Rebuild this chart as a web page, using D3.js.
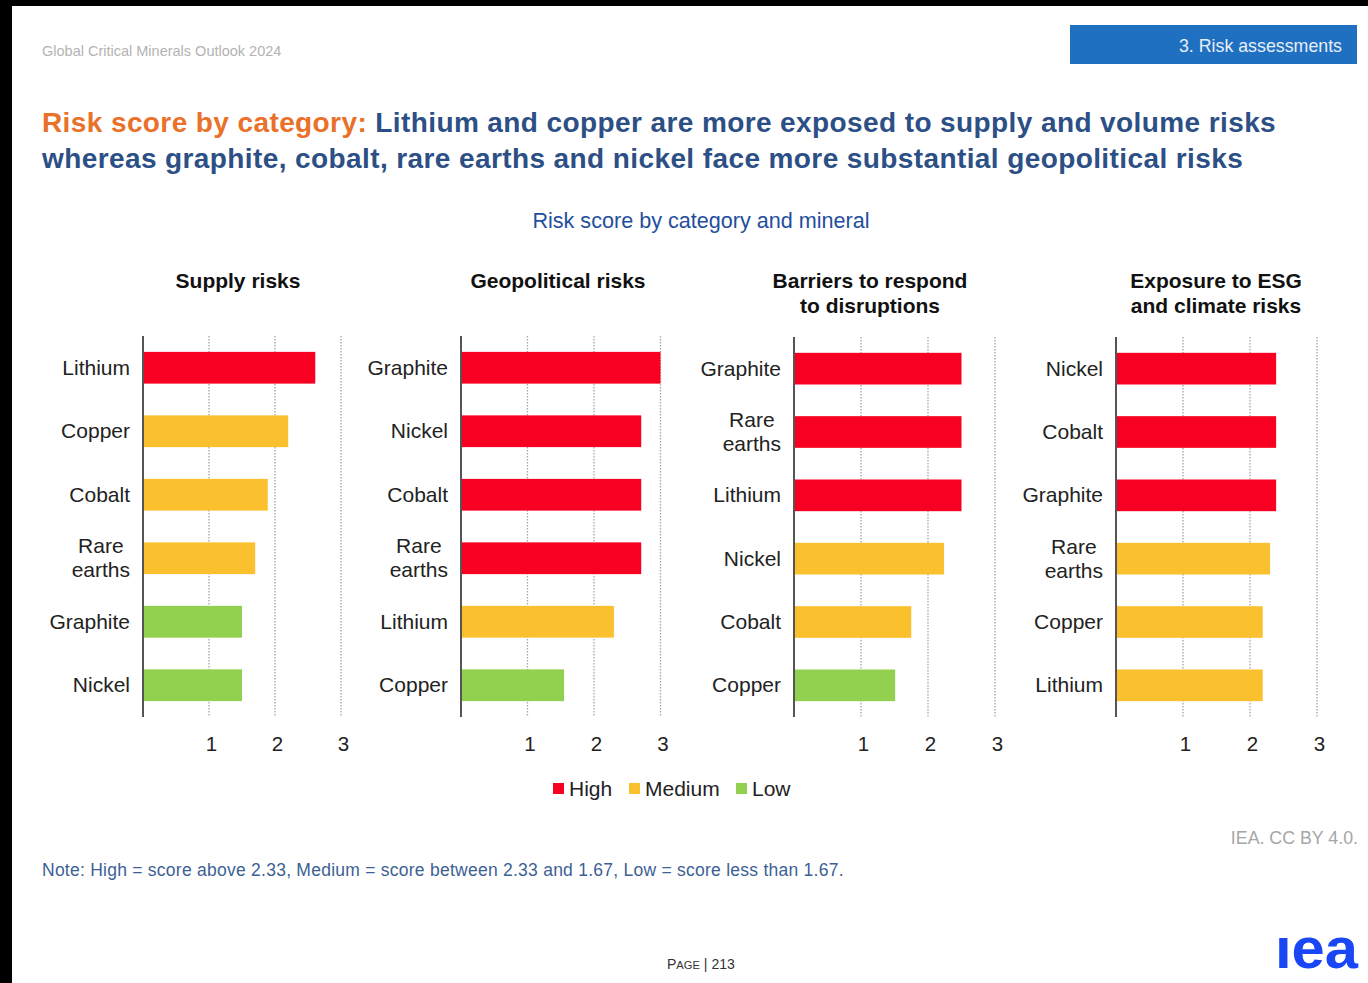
<!DOCTYPE html>
<html>
<head>
<meta charset="utf-8">
<script src="https://cdn.jsdelivr.net/npm/d3@7"></script>
<style>
  html, body { margin: 0; padding: 0; background: #000; }
  svg { display: block; }
  text { font-family: "Liberation Sans", Arial, sans-serif; }
</style>
</head>
<body>
<script>
// Risk scores (0–3) by category and mineral
const panelTitles = [
  ["Supply risks"],
  ["Geopolitical risks"],
  ["Barriers to respond", "to disruptions"],
  ["Exposure to ESG", "and climate risks"]
];
const supplyMinerals = ["Lithium", "Copper", "Cobalt", "Rare earths", "Graphite", "Nickel"];
const supplyScores   = [2.61, 2.2, 1.89, 1.7, 1.5, 1.5];
const supplyLevels   = ["High", "Medium", "Medium", "Medium", "Low", "Low"];

const geoMinerals = ["Graphite", "Nickel", "Cobalt", "Rare earths", "Lithium", "Copper"];
const geoScores   = [3.0, 2.71, 2.71, 2.71, 2.3, 1.55];
const geoLevels   = ["High", "High", "High", "High", "Medium", "Low"];

const barrierMinerals = ["Graphite", "Rare earths", "Lithium", "Nickel", "Cobalt", "Copper"];
const barrierScores   = [2.5, 2.5, 2.5, 2.24, 1.75, 1.51];
const barrierLevels   = ["High", "High", "High", "Medium", "Medium", "Low"];

const esgMinerals = ["Nickel", "Cobalt", "Graphite", "Rare earths", "Copper", "Lithium"];
const esgScores   = [2.39, 2.39, 2.39, 2.3, 2.19, 2.19];
const esgLevels   = ["High", "High", "High", "Medium", "Medium", "Medium"];

const tickValues = [1, 2, 3];
const levelNames = ["High", "Medium", "Low"];
const levelColors = ["#f70021", "#fbc02e", "#92d050"];

const panels = [
  { minerals: supplyMinerals, scores: supplyScores, levels: supplyLevels, x0: 143, unit: 66, top: 336 },
  { minerals: geoMinerals, scores: geoScores, levels: geoLevels, x0: 461, unit: 66.5, top: 336 },
  { minerals: barrierMinerals, scores: barrierScores, levels: barrierLevels, x0: 794, unit: 67, top: 337 },
  { minerals: esgMinerals, scores: esgScores, levels: esgLevels, x0: 1116, unit: 67, top: 337 }
];
const titleCenters = [238, 558, 870, 1216];

const W = 1368, H = 983;
const svg = d3.select("body").append("svg").attr("width", W).attr("height", H);

// page area (dark frame on left and top)
svg.append("rect").attr("x", 0).attr("y", 0).attr("width", W).attr("height", H).attr("fill", "#000");
svg.append("rect").attr("x", 12).attr("y", 6).attr("width", W - 12).attr("height", H - 6).attr("fill", "#fff");

// page header
svg.append("text").attr("x", 42).attr("y", 56).attr("font-size", 14.5).attr("fill", "#b3b3b3")
  .text("Global Critical Minerals Outlook 2024");
svg.append("rect").attr("x", 1070).attr("y", 25).attr("width", 287).attr("height", 39).attr("fill", "#1f70c1");
svg.append("text").attr("x", 1342).attr("y", 52).attr("text-anchor", "end").attr("font-size", 17.8)
  .attr("fill", "#e8eef8").text("3. Risk assessments");

// headline
const head = svg.append("g").attr("font-weight", "bold").attr("font-size", 28).attr("letter-spacing", 0.4);
const l1 = head.append("text").attr("x", 42).attr("y", 132);
l1.append("tspan").attr("fill", "#e9712a").text("Risk score by category: ");
l1.append("tspan").attr("fill", "#2c4f85").text("Lithium and copper are more exposed to supply and volume risks");
head.append("text").attr("x", 42).attr("y", 168).attr("fill", "#2c4f85")
  .text("whereas graphite, cobalt, rare earths and nickel face more substantial geopolitical risks");

// chart title
svg.append("text").attr("x", 701).attr("y", 228).attr("text-anchor", "middle").attr("font-size", 21.6)
  .attr("fill", "#1f4f9c").text("Risk score by category and mineral");

const colorOf = d3.scaleOrdinal().domain(levelNames).range(levelColors);
const bottom = 717;

panels.forEach((p, i) => {
  const g = svg.append("g");
  const x = d3.scaleLinear().domain([0, 3]).range([p.x0, p.x0 + 3 * p.unit]);
  const y = d3.scaleBand().domain(p.minerals).range([p.top, bottom]).paddingInner(0.5).paddingOuter(0.25);

  // panel title
  const t = g.append("text").attr("text-anchor", "middle").attr("font-weight", "bold").attr("font-size", 21)
    .attr("fill", "#111");
  panelTitles[i].forEach((line, k) => {
    t.append("tspan").attr("x", titleCenters[i]).attr("y", 288 + k * 25).text(line);
  });

  // dotted gridlines
  g.selectAll("line.grid").data(tickValues).join("line").attr("class", "grid")
    .attr("x1", d => x(d)).attr("x2", d => x(d)).attr("y1", p.top).attr("y2", bottom)
    .attr("stroke", "#a6a6a6").attr("stroke-width", 1.3).attr("stroke-dasharray", "1.5,1.5");

  // bars
  g.selectAll("rect.bar").data(p.minerals).join("rect").attr("class", "bar")
    .attr("x", x(0) + 1).attr("y", d => y(d))
    .attr("width", (d, j) => x(p.scores[j]) - x(0) - 1)
    .attr("height", y.bandwidth())
    .attr("fill", (d, j) => colorOf(p.levels[j]));

  // value axis (tick labels only)
  const ax = g.append("g").attr("transform", `translate(2,${bottom})`)
    .call(d3.axisBottom(x).tickValues(tickValues).tickSize(0).tickPadding(19).tickFormat(d3.format("d")));
  ax.select(".domain").remove();
  ax.selectAll("text").attr("font-size", 20.5).attr("fill", "#222")
    .style("font-family", "'Liberation Sans', Arial, sans-serif");

  // category axis line
  g.append("line").attr("x1", p.x0).attr("x2", p.x0).attr("y1", p.top).attr("y2", bottom)
    .attr("stroke", "#555").attr("stroke-width", 2);

  // category labels (two-line labels centred on each other)
  const labelRight = p.x0 - 13;
  p.minerals.forEach(m => {
    const words = m.split(" ");
    const cy = y(m) + y.bandwidth() / 2;
    const lab = g.append("text").attr("font-size", 21).attr("fill", "#222");
    if (words.length === 1) {
      lab.attr("x", labelRight).attr("y", cy + 7).attr("text-anchor", "end").text(m);
    } else {
      lab.attr("text-anchor", "middle");
      const spans = words.map((w, k) => lab.append("tspan").attr("y", cy - 5 + k * 24).text(w));
      const widest = d3.max(spans, s => s.node().getComputedTextLength());
      spans.forEach(s => s.attr("x", labelRight - widest / 2));
    }
  });
});

// legend
const legendX = [553, 629, 736];
const lg = svg.append("g");
levelNames.forEach((n, i) => {
  lg.append("rect").attr("x", legendX[i]).attr("y", 783).attr("width", 11).attr("height", 11).attr("fill", levelColors[i]);
  lg.append("text").attr("x", legendX[i] + 16).attr("y", 796).attr("font-size", 21).attr("fill", "#222").text(n);
});

// source and note
svg.append("text").attr("x", 1358).attr("y", 844).attr("text-anchor", "end").attr("font-size", 17.8)
  .attr("fill", "#a6a6a6").text("IEA. CC BY 4.0.");
svg.append("text").attr("x", 42).attr("y", 876).attr("font-size", 17.5).attr("letter-spacing", 0.25)
  .attr("fill", "#3d5f95")
  .text("Note: High = score above 2.33, Medium = score between 2.33 and 1.67, Low = score less than 1.67.");

// footer
const pg = svg.append("text").attr("x", 667).attr("y", 969).attr("font-size", 14).attr("fill", "#333");
pg.append("tspan").text("P");
pg.append("tspan").attr("font-size", 11.2).text("AGE");
pg.append("tspan").text(" | 213");

svg.append("text").attr("x", 1275).attr("y", 968).attr("font-size", 57)
  .attr("font-weight", "900").attr("fill", "#1a47f5").attr("font-family", "'DejaVu Sans', sans-serif")
  .attr("textLength", 83).attr("lengthAdjust", "spacingAndGlyphs").text("ıea");
</script>
</body>
</html>
